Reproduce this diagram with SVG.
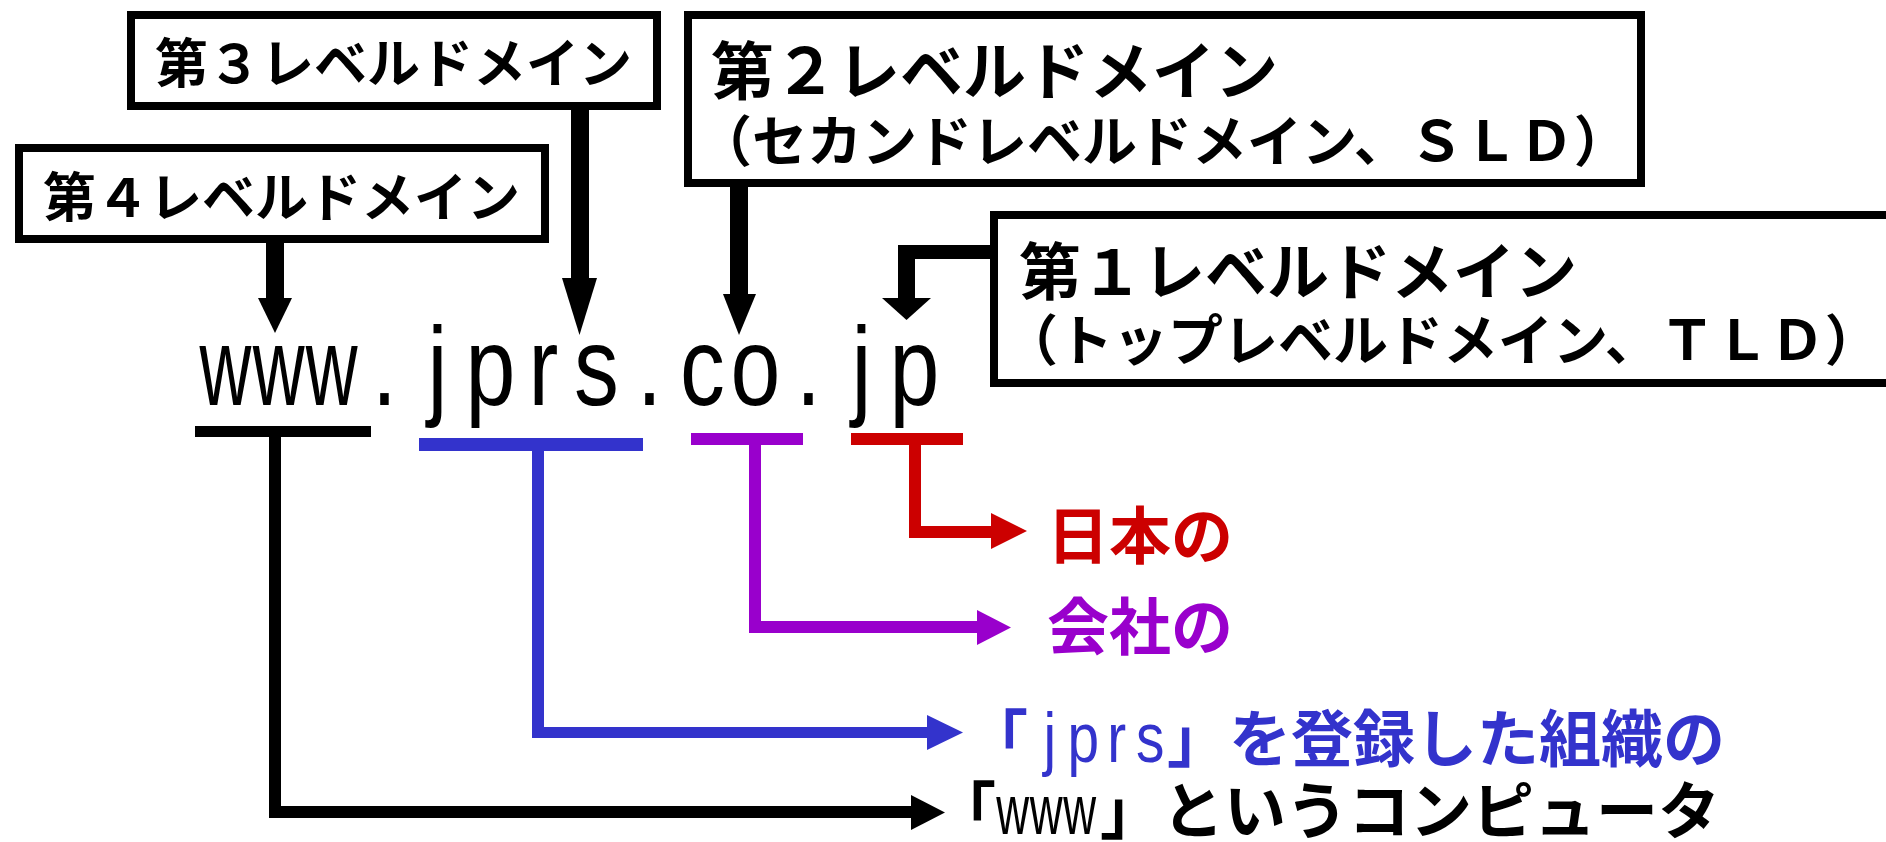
<svg xmlns="http://www.w3.org/2000/svg" width="1886" height="842" viewBox="0 0 1886 842">
<style>
.box{fill:#fff;stroke:#000;stroke-width:8}
.jp{font-family:"Noto Sans CJK JP","Noto Sans CJK SC",sans-serif;font-weight:700}
.lat{font-family:"Liberation Sans",Arial,sans-serif}
.k{fill:#000}.b{fill:#3333cc}.p{fill:#9900cc}.r{fill:#cc0000}
</style>
<rect width="1886" height="842" fill="#fff"/>
<g id="connectors">
  <rect class="k" x="266" y="239" width="18" height="60"/>
  <polygon class="k" points="258,298 292,298 275,333"/>
  <rect class="k" x="571" y="106" width="18" height="173"/>
  <polygon class="k" points="562,278 597,278 579.5,335"/>
  <rect class="k" x="730" y="183" width="18" height="112"/>
  <polygon class="k" points="723,294 756,294 739,335"/>
  <rect class="k" x="898" y="245" width="96" height="14"/>
  <rect class="k" x="898" y="245" width="17" height="54"/>
  <polygon class="k" points="882,298 931,298 906.5,320"/>
  <rect class="k" x="195" y="426" width="176" height="11"/>
  <rect class="k" x="269" y="437" width="12" height="381"/>
  <rect class="k" x="269" y="806" width="643" height="12"/>
  <polygon class="k" points="911,795 911,830 945,812.5"/>
  <rect class="b" x="419" y="438" width="224" height="13"/>
  <rect class="b" x="532" y="451" width="12" height="287"/>
  <rect class="b" x="532" y="727" width="396" height="11"/>
  <polygon class="b" points="927,715 927,750 963,732.5"/>
  <rect class="p" x="691" y="433" width="112" height="12"/>
  <rect class="p" x="749" y="445" width="12" height="188"/>
  <rect class="p" x="749" y="621" width="229" height="12"/>
  <polygon class="p" points="977,610 977,645 1011,627.5"/>
  <rect class="r" x="851" y="433" width="112" height="12"/>
  <rect class="r" x="909" y="445" width="12" height="93"/>
  <rect class="r" x="909" y="526" width="83" height="12"/>
  <polygon class="r" points="991,513 991,549 1027,531"/>
</g>
<g id="box-level3">
  <rect class="box" x="131" y="15" width="526" height="91"/>
  <text class="jp" x="155" y="83" font-size="53">第３レベルドメイン</text>
</g>
<g id="box-level4">
  <rect class="box" x="19" y="148" width="526" height="91"/>
  <text class="jp" x="43" y="217" font-size="53">第４レベルドメイン</text>
</g>
<g id="box-level2">
  <rect class="box" x="688" y="15" width="953" height="168"/>
  <text class="jp" x="711" y="94" font-size="63">第２レベルドメイン</text>
  <text class="jp" x="697" y="161" font-size="55">（セカンドレベルドメイン、ＳＬＤ）</text>
</g>
<g id="box-level1">
  <rect class="box" x="994" y="215" width="920" height="168"/>
  <text class="jp" x="1019" y="295" font-size="62">第１レベルドメイン</text>
  <text class="jp" x="1003" y="360" font-size="55">（トップレベルドメイン、ＴＬＤ）</text>
</g>
<g id="domain" class="lat k" font-size="112">
  <text transform="scale(0.64,1)" text-anchor="middle" x="352.3 435.2 518" y="405">www</text>
  <text transform="scale(0.8,1)" text-anchor="middle" x="480.6 546.9 613.1 679.4 745.6 811.9 878.1 944.4 1010.6 1076.9 1143.1" y="405">.jprs.co.jp</text>
</g>
<g id="label-jp" class="r">
  <text class="jp" x="1047" y="559" font-size="62">日本の</text>
</g>
<g id="label-co" class="p">
  <text class="jp" x="1047" y="650" font-size="62">会社の</text>
</g>
<g id="label-jprs" class="b">
  <text class="jp" x="966" y="762" font-size="62">「</text>
  <text class="lat" font-size="71" transform="scale(0.8,1)" text-anchor="middle" x="1312.2 1354.1 1395.9 1437.8" y="762">jprs</text>
  <text class="jp" x="1167" y="762" font-size="62">」を登録した組織の</text>
</g>
<g id="label-www" class="k">
  <text class="jp" x="934" y="834" font-size="62">「</text>
  <text class="lat" font-size="71" transform="scale(0.64,1)" text-anchor="middle" x="1582.4 1634.8 1687.1" y="834">www</text>
  <text class="jp" x="1100" y="834" font-size="62">」というコンピュータ</text>
</g>
</svg>
